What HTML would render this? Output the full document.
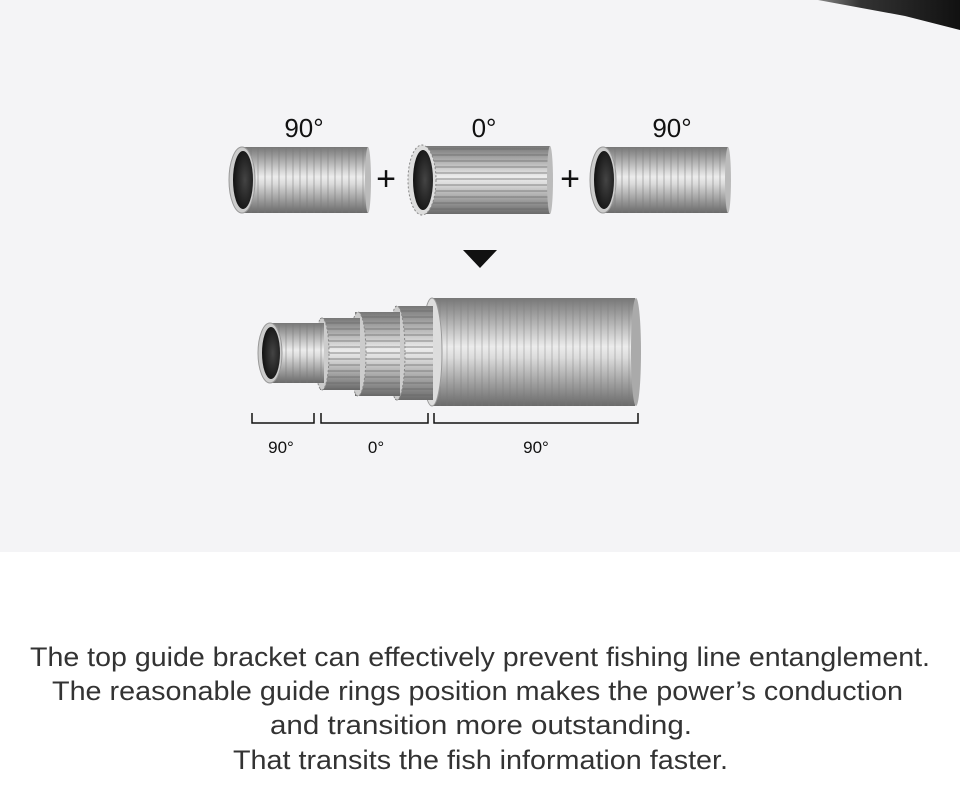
<!DOCTYPE html>
<html><head><style>
body{margin:0;width:960px;height:807px;background:#fff;font-family:"Liberation Sans",sans-serif;overflow:hidden}
</style></head><body>
<svg width="960" height="807" xmlns="http://www.w3.org/2000/svg" style="position:absolute;left:0;top:0">
<defs>
<linearGradient id="g" x1="0" y1="0" x2="0" y2="1">
<stop offset="0" stop-color="#777"/><stop offset="0.45" stop-color="#ececec"/><stop offset="0.55" stop-color="#dcdcdc"/><stop offset="1" stop-color="#6a6a6a"/></linearGradient>
<radialGradient id="h" cx="0.6" cy="0.5" r="0.6"><stop offset="0" stop-color="#444"/><stop offset="1" stop-color="#111"/></radialGradient>
<linearGradient id="rod" x1="0" y1="0" x2="1" y2="0"><stop offset="0" stop-color="#888"/><stop offset="0.3" stop-color="#333"/><stop offset="1" stop-color="#111"/></linearGradient>
<pattern id="v" width="7" height="10" patternUnits="userSpaceOnUse"><line x1="6" y1="0" x2="6" y2="10" stroke="#777" stroke-width="1" opacity=".5"/></pattern>
<pattern id="hz" width="10" height="6" patternUnits="userSpaceOnUse"><line x1="0" y1="5" x2="10" y2="5" stroke="#666" stroke-width="1.2" opacity=".6"/></pattern>
</defs>
<rect width="960" height="552" fill="#f4f4f6"/>
<polygon points="818,0 960,0 960,30 905,16" fill="url(#rod)"/>
<g font-size="26" fill="#111" text-anchor="middle">
<text x="304" y="137">90°</text><text x="484" y="137">0°</text><text x="672" y="137">90°</text></g>
<g><rect x="242" y="147" width="126" height="66" fill="url(#g)"/><rect x="242" y="147" width="126" height="66" fill="url(#v)"/>
<ellipse cx="368" cy="180" rx="3" ry="33" fill="#bbb"/>
<ellipse cx="242" cy="180" rx="13" ry="33" fill="#ccc" stroke="#999"/><ellipse cx="243" cy="180" rx="10" ry="29" fill="url(#h)"/></g>
<text x="386" y="190" font-size="34" text-anchor="middle" fill="#111">+</text>
<g><rect x="420" y="146" width="130" height="68" fill="url(#g)"/><rect x="420" y="146" width="130" height="68" fill="url(#hz)"/>
<ellipse cx="550" cy="180" rx="3" ry="34" fill="#bbb"/>
<ellipse cx="422" cy="180" rx="14" ry="35" fill="#ddd" stroke="#888" stroke-dasharray="2 2"/><ellipse cx="423" cy="180" rx="10" ry="30" fill="url(#h)"/></g>
<text x="570" y="190" font-size="34" text-anchor="middle" fill="#111">+</text>
<g><rect x="603" y="147" width="125" height="66" fill="url(#g)"/><rect x="603" y="147" width="125" height="66" fill="url(#v)"/>
<ellipse cx="728" cy="180" rx="3" ry="33" fill="#bbb"/>
<ellipse cx="603" cy="180" rx="13" ry="33" fill="#ccc" stroke="#999"/><ellipse cx="604" cy="180" rx="10" ry="29" fill="url(#h)"/></g>
<polygon points="463,250 497,250 480,268" fill="#111"/>
<g>
<rect x="432" y="298" width="203" height="108" fill="url(#g)"/><rect x="432" y="298" width="203" height="108" fill="url(#v)" opacity=".8"/>
<ellipse cx="636" cy="352" rx="5" ry="54" fill="#aaa"/>
<ellipse cx="432" cy="352" rx="10" ry="54" fill="#ddd" stroke="#999"/>
<rect x="395" y="306" width="38" height="94" fill="url(#g)"/><rect x="395" y="306" width="38" height="94" fill="url(#hz)"/>
<ellipse cx="397" cy="353" rx="8" ry="47" fill="#ccc" stroke="#888" stroke-dasharray="2 2"/>
<rect x="355" y="312" width="45" height="84" fill="url(#g)"/><rect x="355" y="312" width="45" height="84" fill="url(#hz)"/>
<ellipse cx="358" cy="354" rx="8" ry="42" fill="#ccc" stroke="#888" stroke-dasharray="2 2"/>
<rect x="320" y="318" width="40" height="72" fill="url(#g)"/><rect x="320" y="318" width="40" height="72" fill="url(#hz)"/>
<ellipse cx="322" cy="354" rx="7" ry="36" fill="#ccc" stroke="#888" stroke-dasharray="2 2"/>
<rect x="268" y="323" width="56" height="60" fill="url(#g)"/><rect x="268" y="323" width="56" height="60" fill="url(#v)"/>
<ellipse cx="270" cy="353" rx="12" ry="30" fill="#ccc" stroke="#999"/><ellipse cx="271" cy="353" rx="9" ry="26" fill="url(#h)"/>
</g>
<g stroke="#111" stroke-width="1.5" fill="none">
<polyline points="252,413 252,423 314,423 314,413"/>
<polyline points="321,413 321,423 428,423 428,413"/>
<polyline points="434,413 434,423 638,423 638,413"/></g>
<g font-size="17" fill="#111" text-anchor="middle">
<text x="281" y="453">90°</text><text x="376" y="453">0°</text><text x="536" y="453">90°</text></g>
<g font-size="27" fill="#333">
<text x="30" y="666" textLength="900" lengthAdjust="spacingAndGlyphs">The top guide bracket can effectively prevent fishing line entanglement.</text>
<text x="52" y="700" textLength="851" lengthAdjust="spacingAndGlyphs">The reasonable guide rings position makes the power’s conduction</text>
<text x="270" y="734" textLength="422" lengthAdjust="spacingAndGlyphs">and transition more outstanding.</text>
<text x="233" y="769" textLength="495" lengthAdjust="spacingAndGlyphs">That transits the fish information faster.</text></g>
</svg>
</body></html>
